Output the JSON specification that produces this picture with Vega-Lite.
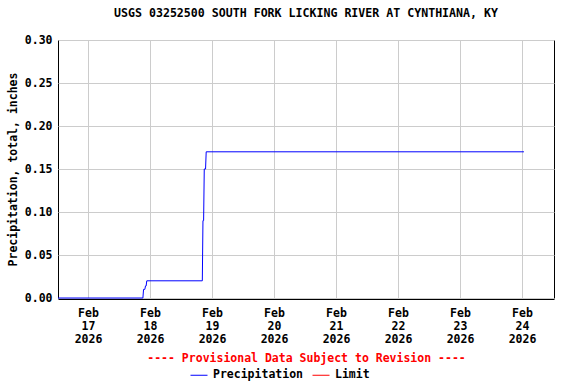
{
  "$schema": "https://vega.github.io/schema/vega-lite/v6.json",
  "width": 496,
  "height": 258,
  "autosize": "none",
  "padding": {"left": 58, "top": 40, "right": 22, "bottom": 86},
  "background": "white",
  "title": {
    "text": "USGS 03252500 SOUTH FORK LICKING RIVER AT CYNTHIANA, KY",
    "font": "DejaVu Sans Mono",
    "fontSize": 11.6,
    "fontWeight": "bold",
    "color": "black",
    "anchor": "middle",
    "offset": 14
  },
  "config": {
    "view": {"stroke": "black", "strokeWidth": 1},
    "axis": {
      "labelFont": "DejaVu Sans Mono",
      "labelFontWeight": "bold",
      "labelFontSize": 11.5,
      "labelColor": "black",
      "titleFont": "DejaVu Sans Mono",
      "titleFontWeight": "bold",
      "titleFontSize": 11.5,
      "titleColor": "black",
      "gridColor": "#cccccc",
      "gridWidth": 1,
      "tickSize": 0,
      "domainColor": "black"
    },
    "legend": {
      "labelFont": "DejaVu Sans Mono",
      "labelFontWeight": "bold",
      "labelFontSize": 11.5,
      "labelColor": "black"
    }
  },
  "data": {
    "values": [
      {"t": "2026-02-16T12:23:00", "v": 0, "series": "Precipitation"},
      {"t": "2026-02-17T21:15:00", "v": 0, "series": "Precipitation"},
      {"t": "2026-02-17T21:30:00", "v": 0.01, "series": "Precipitation"},
      {"t": "2026-02-17T22:00:00", "v": 0.01, "series": "Precipitation"},
      {"t": "2026-02-17T22:15:00", "v": 0.014, "series": "Precipitation"},
      {"t": "2026-02-17T22:30:00", "v": 0.014, "series": "Precipitation"},
      {"t": "2026-02-17T22:45:00", "v": 0.02, "series": "Precipitation"},
      {"t": "2026-02-18T20:15:00", "v": 0.02, "series": "Precipitation"},
      {"t": "2026-02-18T20:30:00", "v": 0.09, "series": "Precipitation"},
      {"t": "2026-02-18T20:45:00", "v": 0.09, "series": "Precipitation"},
      {"t": "2026-02-18T21:00:00", "v": 0.15, "series": "Precipitation"},
      {"t": "2026-02-18T21:30:00", "v": 0.15, "series": "Precipitation"},
      {"t": "2026-02-18T21:45:00", "v": 0.17, "series": "Precipitation"},
      {"t": "2026-02-24T00:45:00", "v": 0.17, "series": "Precipitation"}
    ]
  },
  "mark": {"type": "line", "strokeWidth": 1, "clip": false},
  "encoding": {
    "x": {
      "field": "t",
      "type": "temporal",
      "scale": {"domain": [{"year": 2026, "month": 2, "date": 16, "hours": 12, "minutes": 23}, {"year": 2026, "month": 2, "date": 24, "hours": 12, "minutes": 23}]},
      "axis": {
        "title": "---- Provisional Data Subject to Revision ----",
        "titleColor": "red",
        "titlePadding": 8,
        "tickCount": {"interval": "day", "step": 1},
        "labelExpr": "[timeFormat(datum.value, '%b'), timeFormat(datum.value, '%d'), timeFormat(datum.value, '%Y')]",
        "labelBaseline": "top",
        "labelPadding": 8,
        "labelLineHeight": 13,
        "labelFlush": false,
        "labelOverlap": false,
        "offset": 1,
        "domainWidth": 1.2
      }
    },
    "y": {
      "field": "v",
      "type": "quantitative",
      "scale": {"domain": [0, 0.3], "nice": false},
      "axis": {
        "title": "Precipitation, total, inches",
        "values": [0, 0.05, 0.1, 0.15, 0.2, 0.25, 0.3],
        "format": ".2f",
        "labelPadding": 6,
        "titlePadding": 6,
        "domain": false
      }
    },
    "color": {
      "field": "series",
      "type": "nominal",
      "scale": {"domain": ["Precipitation", "Limit"], "range": ["#0000ff", "#ff0000"]},
      "legend": {
        "title": null,
        "orient": "none",
        "direction": "horizontal",
        "legendX": 132,
        "legendY": 326,
        "symbolType": "stroke",
        "symbolSize": 289,
        "symbolStrokeWidth": 1,
        "labelOffset": 5,
        "columnPadding": 6,
        "padding": 0
      }
    }
  }
}
